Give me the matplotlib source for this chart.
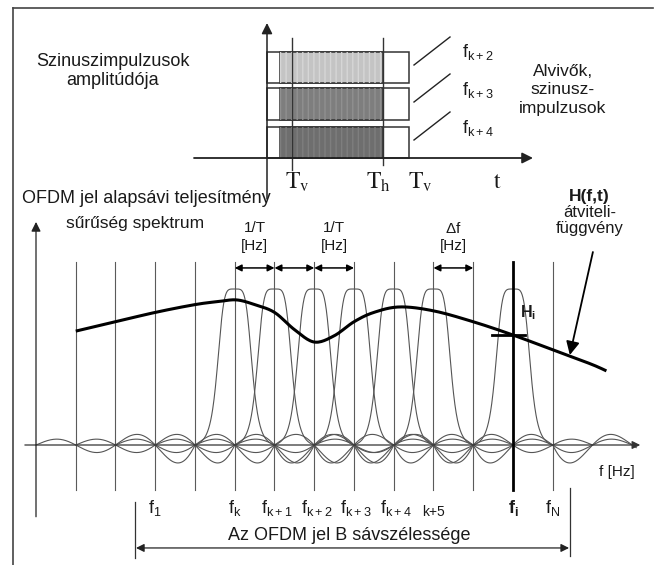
import numpy as np
import matplotlib.pyplot as plt
from matplotlib.lines import Line2D
from matplotlib.patches import Rectangle

plt.rcParams['font.family'] = ['Liberation Sans', 'DejaVu Sans']
plt.rcParams['mathtext.fontset'] = 'custom'
plt.rcParams['mathtext.rm'] = 'Liberation Sans'
plt.rcParams['mathtext.it'] = 'Liberation Sans'
plt.rcParams['mathtext.bf'] = 'Liberation Sans:bold'

# ---- upper part: sine pulses on the time axis (time units / amplitude units)
row_labels = ['f$_{k+2}$', 'f$_{k+3}$', 'f$_{k+4}$']
row_bottom = [7.5, 3.8, 0.0]
row_top = [10.6, 7.0, 3.1]
row_fill = ['#c4c4c4', '#7e7e7e', '#6e6e6e']
row_hatch = ['#d6d6d6', '#909090', '#7e7e7e']
pulse_start, pulse_end = 0.0, 14.2
active_start, active_end = 1.3, 11.6
t_v, t_h = 2.5, 11.6
time_labels = [r'$\mathrm{T_v}$', r'$\mathrm{T_h}$', r'$\mathrm{T_v}$', r'$\mathrm{t}$']
time_label_pos = [3.0, 11.1, 15.3, 23.0]

# ---- lower part: spectrum (carrier index / normalised amplitude)
grid_lines = np.arange(1, 14)
lobe_carriers = [5, 6, 7, 8, 9, 10, 12]
carrier_names = ['f$_1$', 'f$_k$', 'f$_{k+1}$', 'f$_{k+2}$', 'f$_{k+3}$', 'f$_{k+4}$']
carrier_name_pos = [3, 5, 6.05, 7.05, 8.05, 9.05]
fi_pos, fn_pos, k5_pos = 12, 13, 10
# channel transfer function H(f,t)
h_n = [1.0, 2.0, 3.0, 4.0, 4.6, 5.05, 5.5, 6.0, 6.5, 7.0, 7.5, 8.0, 8.5, 9.15,
       10.0, 11.0, 12.0, 13.0, 13.95, 14.35]
h_y = [0.73, 0.79, 0.85, 0.90, 0.92, 0.93, 0.90, 0.85, 0.74, 0.66, 0.70, 0.79,
       0.85, 0.885, 0.86, 0.79, 0.705, 0.61, 0.52, 0.475]
h_i = 0.705


def smooth(xs, ys, k=14):
    p = np.column_stack([xs, ys])
    p = np.vstack([p[0], p, p[-1]])
    out = []
    t = np.linspace(0, 1, k, endpoint=False)[:, None]
    for i in range(1, len(p) - 2):
        p0, p1, p2, p3 = p[i - 1], p[i], p[i + 1], p[i + 2]
        out.append(0.5 * (2 * p1 + (-p0 + p2) * t + (2 * p0 - 5 * p1 + 4 * p2 - p3) * t ** 2
                          + (-p0 + 3 * p1 - 3 * p2 + p3) * t ** 3))
    out.append(p[-2][None])
    out = np.vstack(out)
    return out[:, 0], out[:, 1]


def carrier_shape(u):
    a = np.abs(u)
    b = lambda v: 1 / (1 + (v / 0.442) ** 5)
    main = (b(a) - b(1)) / (1 - b(1))
    return np.where(a < 1, main, 0.53 * np.sinc(u))


fig = plt.figure(figsize=(6.55, 5.65), dpi=100)
ax_top = fig.add_axes([0, 0, 1, 1])
ax_bot = fig.add_axes([0, 0, 1, 1])
ax_top.set_xlim(-26.7, 38.8)
ax_top.set_ylim(-40.7, 15.8)
ax_bot.set_xlim(-36 / 39.75, 619 / 39.75)
ax_bot.set_ylim(-120 / 156, 445 / 156)
for ax in (ax_top, ax_bot):
    ax.axis('off')
ax_bot.patch.set_alpha(0)

# frame
fig.add_artist(Line2D([0.0194, 0.0194], [0, 0.9858], transform=fig.transFigure, color='#444', lw=1.2))
fig.add_artist(Line2D([0.0194, 0.997], [0.9858, 0.9858], transform=fig.transFigure, color='#444', lw=1.2))

txt = '#1a1a1a'
# ---------------- upper diagram
for lab, y0, y1, fc, hc in zip(row_labels, row_bottom, row_top, row_fill, row_hatch):
    ax_top.add_patch(Rectangle((pulse_start, y0), pulse_end - pulse_start, y1 - y0,
                               facecolor='white', edgecolor='#333', lw=1.1))
    ax_top.add_patch(Rectangle((active_start, y0), active_end - active_start, y1 - y0,
                               facecolor=fc, edgecolor='#333', lw=1.1))
    ax_top.add_patch(Rectangle((active_start, y0), active_end - active_start, y1 - y0,
                               facecolor='none', edgecolor=hc, lw=0, hatch='|||'))
    ax_top.plot([pulse_end + 0.5, pulse_end + 4.1], [y0 + 1.8, y0 + 4.6], color='#222', lw=1.0)
    ax_top.text(pulse_end + 5.3, y0 + 3.05, lab, fontsize=13, color=txt, va='center', ha='left')

ax_top.plot([t_v, t_v], [-1.2, 12], color='#333', lw=1.0)
ax_top.plot([t_h, t_h], [-0.7, 12], color='#333', lw=1.0)
ax_top.annotate('', xy=(26.6, 0), xytext=(-7.3, 0),
                arrowprops=dict(arrowstyle='-|>', color='#222', lw=1.3, mutation_scale=16,
                                shrinkA=0, shrinkB=0))
ax_top.annotate('', xy=(0, 13.5), xytext=(0, -4.1),
                arrowprops=dict(arrowstyle='-|>', color='#222', lw=1.1, mutation_scale=16,
                                shrinkA=0, shrinkB=0))
for lab, x in zip(time_labels, time_label_pos):
    ax_top.text(x, -2.4, lab, fontsize=17, color=txt, ha='center', va='center',
                math_fontfamily='stix')
ax_top.text(-15.4, 8.7, 'Szinuszimpulzusok\namplitúdója', fontsize=13, color=txt,
            ha='center', va='center', linespacing=1.15)
ax_top.text(29.6, 6.8, 'Alvivők,\nszinusz-\nimpulzusok', fontsize=12.5, color=txt,
            ha='center', va='center', linespacing=1.3)

# ---------------- lower diagram
for n in grid_lines:
    if n == fi_pos:
        ax_bot.plot([n, n], [-0.29, 1.17], color='black', lw=2.0, zorder=4)
    else:
        ax_bot.plot([n, n], [-0.29, 1.17], color='#5a5a5a', lw=0.8)

for c in lobe_carriers:
    u = np.linspace(max(-5, 0 - c), min(5, 15.1 - c), 1200)
    ax_bot.plot(c + u, carrier_shape(u), color='#555', lw=0.8)

ax_bot.annotate('', xy=(15.2, 0), xytext=(-0.28, 0),
                arrowprops=dict(arrowstyle='-|>', color='#333', lw=0.9, mutation_scale=12,
                                shrinkA=0, shrinkB=0))
ax_bot.annotate('', xy=(0, 1.43), xytext=(0, -0.46),
                arrowprops=dict(arrowstyle='-|>', color='#222', lw=0.9, mutation_scale=14,
                                shrinkA=0, shrinkB=0))

hx, hy = smooth(h_n, h_y)
ax_bot.plot(hx, hy, color='black', lw=2.2, zorder=5, solid_capstyle='butt')
ax_bot.plot([11.47, 12.3], [h_i, h_i], color='black', lw=2.0, zorder=5)
ax_bot.text(12.17, 0.846, 'H$_\\mathbf{i}$', fontsize=11.5, fontweight='bold', color=txt,
            ha='left', va='center')
ax_bot.annotate('', xy=(13.43, 0.577), xytext=(14.01, 1.237),
                arrowprops=dict(arrowstyle='-|>', color='black', lw=1.3, mutation_scale=20,
                                shrinkA=0, shrinkB=0))

for x0, x1 in [(5, 6), (6, 7), (7, 8), (10, 11)]:
    ax_bot.annotate('', xy=(x1, 1.135), xytext=(x0, 1.135),
                    arrowprops=dict(arrowstyle='<|-|>', color='black', lw=1.1, mutation_scale=10,
                                    shrinkA=0, shrinkB=0))
for x, top in [(5.5, '1/T'), (7.5, '1/T'), (10.5, '$\\Delta$f')]:
    ax_bot.text(x, 1.39, top, fontsize=11, color=txt, ha='center', va='center')
    ax_bot.text(x, 1.275, '[Hz]', fontsize=11, color=txt, ha='center', va='center')

for lab, x in zip(carrier_names, carrier_name_pos):
    ax_bot.text(x, -0.404, lab, fontsize=13, color=txt, ha='center', va='center')
ax_bot.text(k5_pos, -0.43, 'k+5', fontsize=10, color=txt, ha='center', va='center')
ax_bot.text(fi_pos, -0.404, 'f$_\\mathbf{i}$', fontsize=13, fontweight='bold', color=txt,
            ha='center', va='center')
ax_bot.text(fn_pos, -0.404, 'f$_N$', fontsize=13, color=txt, ha='center', va='center')
ax_bot.text(14.62, -0.173, 'f [Hz]', fontsize=11, color=txt, ha='center', va='center')

ax_bot.plot([2.49, 2.49], [-0.365, -0.724], color='#333', lw=0.9)
ax_bot.plot([13.43, 13.43], [-0.276, -0.712], color='#333', lw=0.9)
ax_bot.annotate('', xy=(13.41, -0.66), xytext=(2.516, -0.66),
                arrowprops=dict(arrowstyle='<|-|>', color='#222', lw=0.9, mutation_scale=12,
                                shrinkA=0, shrinkB=0))
ax_bot.text(7.87, -0.577, 'Az OFDM jel B sávszélessége', fontsize=13, color=txt,
            ha='center', va='center')

ax_bot.text(2.77, 1.583, 'OFDM jel alapsávi teljesítmény', fontsize=13, color=txt,
            ha='center', va='center')
ax_bot.text(2.49, 1.423, 'sűrűség spektrum', fontsize=12.5, color=txt, ha='center', va='center')
ax_bot.text(13.91, 1.59, 'H(f,t)', fontsize=12.5, fontweight='bold', color=txt,
            ha='center', va='center')
ax_bot.text(13.93, 1.44, 'átviteli-\nfüggvény', fontsize=12, color=txt, ha='center',
            va='center', linespacing=1.1)

fig.savefig('out.png', dpi=100)
